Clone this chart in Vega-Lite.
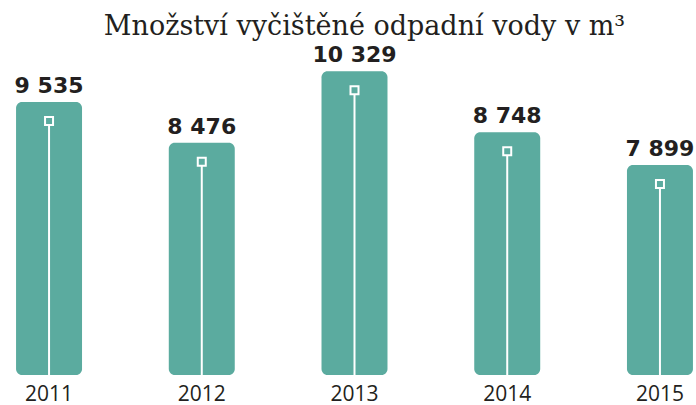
{
  "$schema": "https://vega.github.io/schema/vega-lite/v6.json",
  "width": 683,
  "height": 330,
  "autosize": {"type": "none"},
  "padding": {"left": 13, "top": 45, "right": 0, "bottom": 30},
  "background": "white",
  "config": {
    "view": {"stroke": null},
    "locale": {"number": {"decimal": ",", "thousands": " ", "grouping": [3], "currency": ["", " Kč"]}}
  },
  "title": {
    "text": "Množství vyčištěné odpadní vody v m³",
    "font": "DejaVu Serif",
    "fontSize": 27,
    "fontWeight": "normal",
    "color": "#231f20",
    "anchor": "middle",
    "offset": 3,
    "dx": 10
  },
  "data": {
    "values": [
      {"year": "2011", "value": 9535},
      {"year": "2012", "value": 8476},
      {"year": "2013", "value": 10329},
      {"year": "2014", "value": 8748},
      {"year": "2015", "value": 7899}
    ]
  },
  "encoding": {
    "x": {
      "field": "year",
      "type": "ordinal",
      "scale": {"paddingInner": 0.568, "paddingOuter": 0.02},
      "axis": {
        "title": null,
        "domain": false,
        "ticks": false,
        "grid": false,
        "labelAngle": 0,
        "labelFont": "Open Sans",
        "labelFontSize": 21,
        "labelColor": "#231f20",
        "labelPadding": 8
      }
    },
    "y": {
      "field": "value",
      "type": "quantitative",
      "scale": {"domain": [2445, 11012], "zero": false, "nice": false},
      "axis": null
    }
  },
  "layer": [
    {
      "mark": {"type": "bar", "color": "#5bab9f", "cornerRadius": 6},
      "encoding": {"y2": {"datum": 2445}}
    },
    {
      "mark": {"type": "rule", "color": "white", "strokeWidth": 2, "yOffset": 19},
      "encoding": {"y2": {"datum": 2445}}
    },
    {
      "mark": {"type": "point", "shape": "square", "size": 64, "filled": true, "fill": "#5bab9f", "stroke": "white", "strokeWidth": 2, "opacity": 1, "yOffset": 19}
    },
    {
      "mark": {"type": "text", "font": "DejaVu Sans", "fontWeight": "bold", "fontSize": 22, "color": "#231f20", "baseline": "alphabetic", "dy": -9},
      "encoding": {"text": {"field": "value", "type": "quantitative", "format": ",d"}}
    }
  ]
}
